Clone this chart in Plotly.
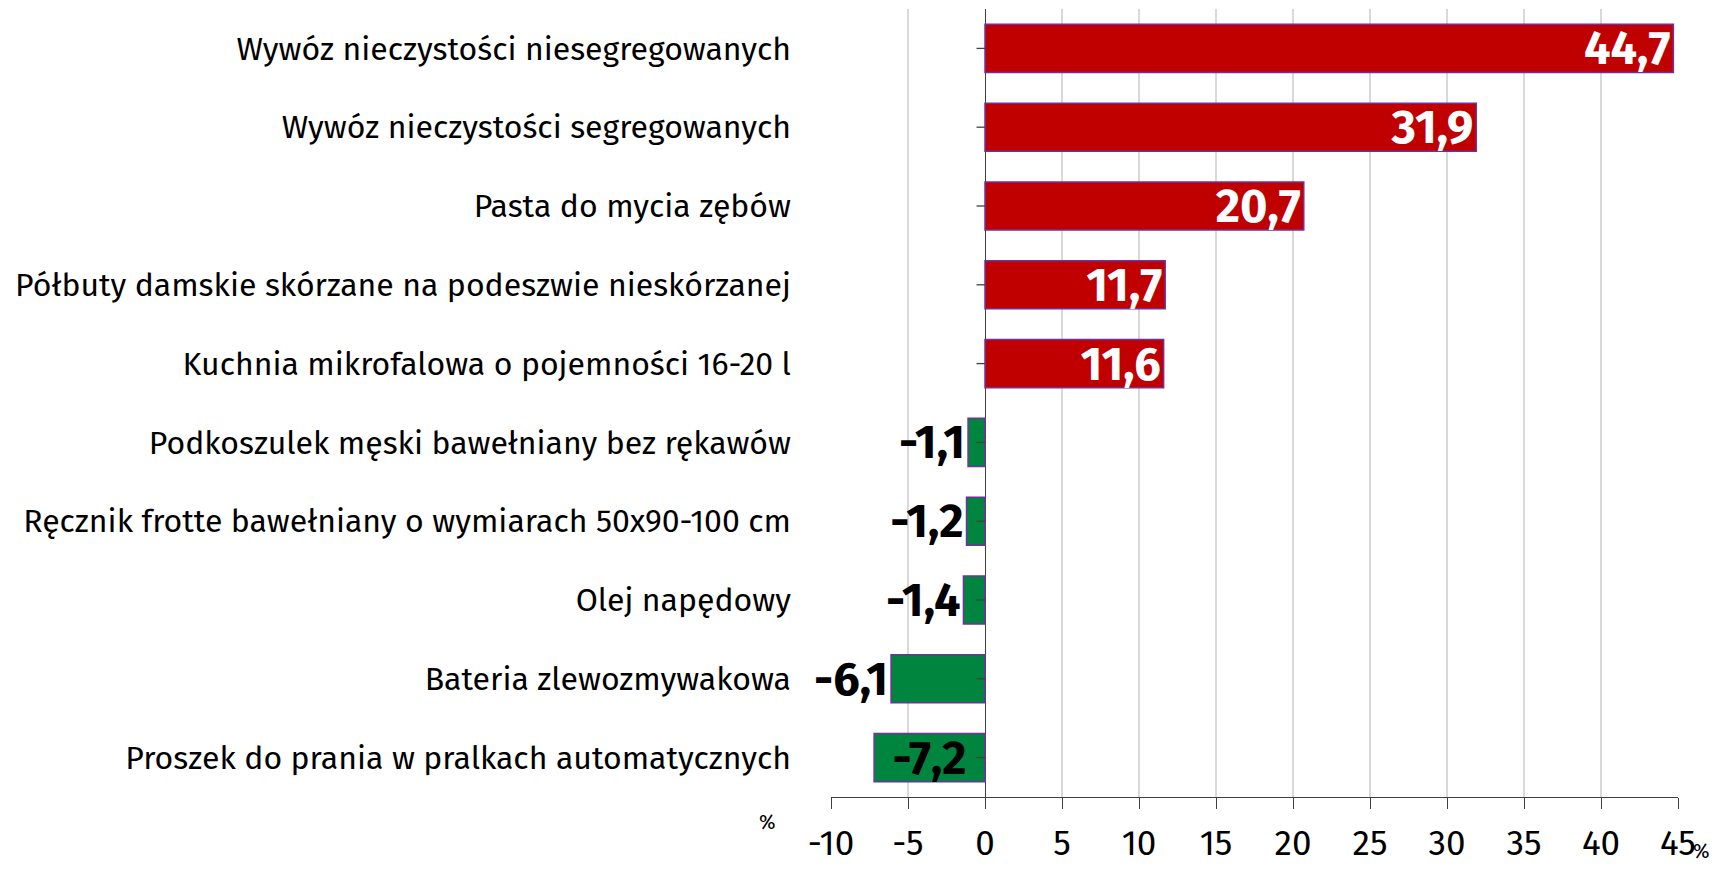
import plotly.graph_objects as go

categories = [
    "Wywóz nieczystości niesegregowanych",
    "Wywóz nieczystości segregowanych",
    "Pasta do mycia zębów",
    "Półbuty damskie skórzane na podeszwie nieskórzanej",
    "Kuchnia mikrofalowa o pojemności 16-20 l",
    "Podkoszulek męski bawełniany bez rękawów",
    "Ręcznik frotte bawełniany o wymiarach 50x90-100 cm",
    "Olej napędowy",
    "Bateria zlewozmywakowa",
    "Proszek do prania w pralkach automatycznych",
]
values = [44.7, 31.9, 20.7, 11.7, 11.6, -1.1, -1.2, -1.4, -6.1, -7.2]
x_ticks = [-10, -5, 0, 5, 10, 15, 20, 25, 30, 35, 40, 45]

RED = "#C00000"
GREEN = "#00853F"
OUTLINE = "#7030A0"
FONT = "Fira Sans, Open Sans, sans-serif"


def fmt(v):
    return f"{v:.1f}".replace(".", ",")


pos_cat = [c for c, v in zip(categories, values) if v >= 0]
pos_val = [v for v in values if v >= 0]
neg_cat = [c for c, v in zip(categories, values) if v < 0]
neg_val = [v for v in values if v < 0]
neg_pos = ["inside" if v == min(neg_val) else "outside" for v in neg_val]

fig = go.Figure()
fig.add_trace(go.Bar(
    y=pos_cat, x=pos_val, orientation="h",
    marker=dict(color=RED, line=dict(color=OUTLINE, width=1.5)),
    text=[fmt(v) for v in pos_val], textposition="inside",
    insidetextanchor="end", constraintext="none", textangle=0,
    textfont=dict(family=FONT, size=47, color="white", weight="bold"),
    cliponaxis=False, showlegend=False,
))
fig.add_trace(go.Bar(
    y=neg_cat, x=neg_val, orientation="h",
    marker=dict(color=GREEN, line=dict(color=OUTLINE, width=1.5)),
    text=[fmt(v) for v in neg_val], textposition=neg_pos,
    insidetextanchor="middle", constraintext="none", textangle=0,
    textfont=dict(family=FONT, size=47, color="black", weight="bold"),
    cliponaxis=False, showlegend=False,
))

# small tick marks on the vertical zero axis at each category
for c in categories:
    fig.add_shape(type="line", xref="x", yref="y", x0=-0.55, x1=0, y0=c, y1=c,
                  line=dict(color="#404040", width=1.3), layer="above")

# page body has an 8px margin, so the figure is sized/offset to compensate
fig.update_layout(
    width=1707, height=859,
    margin=dict(l=823, r=37, t=1, b=70),
    plot_bgcolor="white", paper_bgcolor="white",
    bargap=0.39, barmode="overlay",
    font=dict(family=FONT, color="black"),
    xaxis=dict(
        range=[-10, 45], tickvals=x_ticks, ticktext=[str(t) for t in x_ticks],
        showgrid=True, gridcolor="#D9D9D9", gridwidth=1.5,
        zeroline=True, zerolinecolor="#404040", zerolinewidth=1.3,
        showline=True, linecolor="#404040", linewidth=1.3,
        ticks="outside", ticklen=11, tickcolor="#404040", tickwidth=1.3,
        tickfont=dict(family=FONT, size=35, color="black"),
        ticklabelstandoff=4,
    ),
    yaxis=dict(
        categoryorder="array", categoryarray=categories,
        range=[9.5, -0.5], showgrid=False, zeroline=False, showline=False,
        ticks="", ticklabelstandoff=39,
        tickfont=dict(family=FONT, size=32, color="black"),
    ),
    annotations=[
        dict(text="%", xref="paper", yref="paper", x=-0.0744, y=-0.0317,
             showarrow=False, xanchor="center", yanchor="middle",
             font=dict(family=FONT, size=20, color="black")),
        dict(text="%", xref="paper", yref="paper", x=1.028, y=-0.0865,
             showarrow=False, xanchor="center", yanchor="bottom",
             font=dict(family=FONT, size=20, color="black")),
    ],
)

fig.write_html("out.html")
